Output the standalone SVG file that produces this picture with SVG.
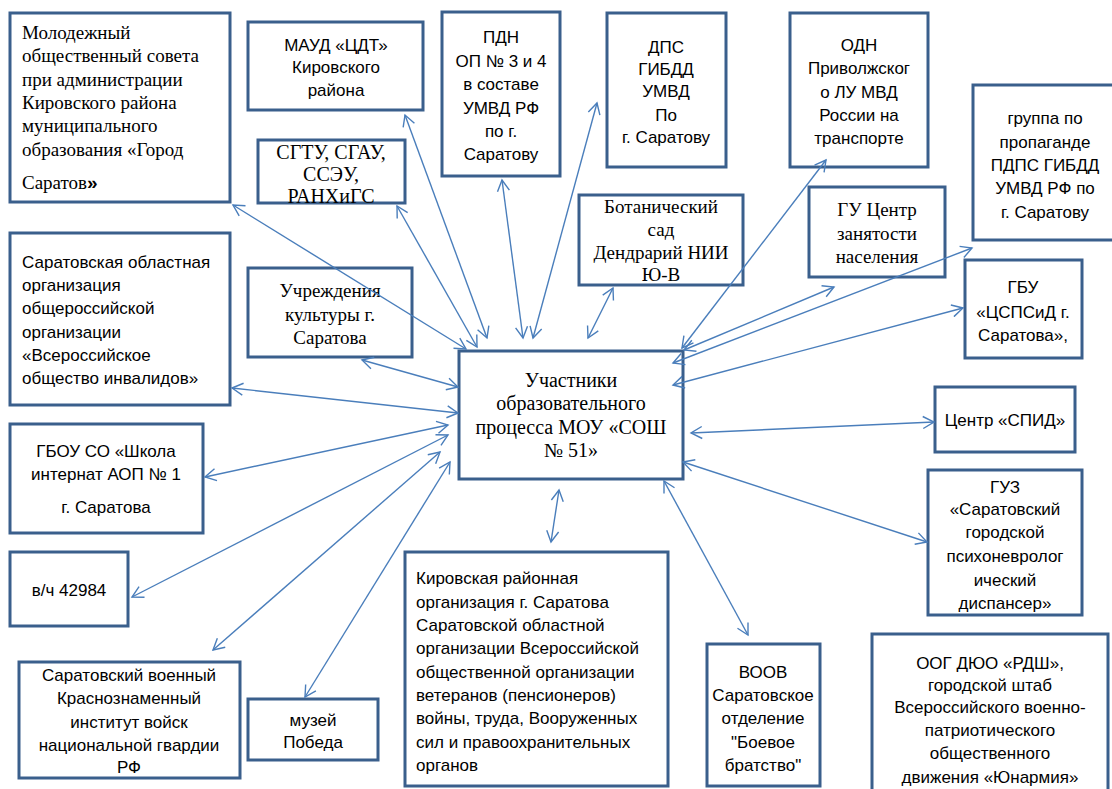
<svg xmlns="http://www.w3.org/2000/svg" width="1112" height="789" viewBox="0 0 1112 789">
<style>
.box{fill:#fff;stroke:#3A5F8C;stroke-width:3}
.serif{font-family:"Liberation Serif","Times New Roman",serif;font-size:19px;fill:#000}
.big{font-size:20px}
.sans{font-family:"Liberation Sans",Arial,sans-serif;font-size:17px;fill:#000}
.c{text-anchor:middle}
.con line{stroke:#4A7EBB;stroke-width:1.4;fill:none;marker-start:url(#ah);marker-end:url(#ah)}
</style>
<defs>
<marker id="ah" markerUnits="userSpaceOnUse" markerWidth="14" markerHeight="14" refX="12" refY="7" orient="auto-start-reverse" viewBox="0 0 14 14">
<path d="M1,1 L12,7 L1,13" fill="none" stroke="#4A7EBB" stroke-width="1.4"/>
</marker>
</defs>
<rect width="1112" height="789" fill="#fff"/>

<g id="n_molod">
<rect class="box" x="10" y="13" width="220" height="189"/>
<text class="serif" x="22"><tspan x="22" y="39">Молодежный</tspan><tspan x="22" y="62">общественный совета</tspan><tspan x="22" y="86">при администрации</tspan><tspan x="22" y="109">Кировского района</tspan><tspan x="22" y="132">муниципального</tspan><tspan x="22" y="156">образования «Город</tspan><tspan x="22" y="189">Саратов<tspan style="font-family:'Liberation Sans',Arial,sans-serif;font-weight:bold">»</tspan></tspan></text>
</g>

<g id="n_maud">
<rect class="box" x="248" y="22" width="175" height="88"/>
<text class="sans c"><tspan x="336" y="51">МАУД «ЦДТ»</tspan><tspan x="336" y="73">Кировского</tspan><tspan x="336" y="96">района</tspan></text>
</g>

<g id="n_sgtu">
<rect class="box" x="258" y="140" width="147" height="63"/>
<text class="serif big c"><tspan x="331" y="159">СГТУ, СГАУ,</tspan><tspan x="331" y="181">ССЭУ,</tspan><tspan x="331" y="203">РАНХиГС</tspan></text>
</g>

<g id="n_pdn">
<rect class="box" x="442" y="12" width="118" height="164"/>
<text class="sans c"><tspan x="501" y="43">ПДН</tspan><tspan x="501" y="67">ОП № 3 и 4</tspan><tspan x="501" y="90">в составе</tspan><tspan x="501" y="114">УМВД РФ</tspan><tspan x="501" y="137">по г.</tspan><tspan x="501" y="160">Саратову</tspan></text>
</g>

<g id="n_dps">
<rect class="box" x="607" y="13" width="119" height="154"/>
<text class="sans c"><tspan x="666" y="53">ДПС</tspan><tspan x="666" y="75">ГИБДД</tspan><tspan x="666" y="97">УМВД</tspan><tspan x="666" y="121">По</tspan><tspan x="666" y="143">г. Саратову</tspan></text>
</g>

<g id="n_odn">
<rect class="box" x="790" y="13" width="138" height="154"/>
<text class="sans c"><tspan x="859" y="51">ОДН</tspan><tspan x="859" y="74">Приволжског</tspan><tspan x="859" y="98">о ЛУ МВД</tspan><tspan x="859" y="121">России на</tspan><tspan x="859" y="144">транспорте</tspan></text>
</g>

<g id="n_gruppa">
<rect class="box" x="973" y="85" width="142" height="155"/>
<text class="sans c"><tspan x="1045" y="124">группа по</tspan><tspan x="1045" y="148">пропаганде</tspan><tspan x="1045" y="171">ПДПС ГИБДД</tspan><tspan x="1045" y="194">УМВД РФ по</tspan><tspan x="1045" y="218">г. Саратову</tspan></text>
</g>

<g id="n_bot">
<rect class="box" x="579" y="195" width="164" height="90"/>
<text class="serif c"><tspan x="661" y="213">Ботанический</tspan><tspan x="661" y="236">сад</tspan><tspan x="661" y="259">Дендрарий НИИ</tspan><tspan x="661" y="281">Ю-В</tspan></text>
</g>

<g id="n_gu">
<rect class="box" x="809" y="187" width="136" height="90"/>
<text class="serif c"><tspan x="877" y="216">ГУ Центр</tspan><tspan x="877" y="240">занятости</tspan><tspan x="877" y="263">населения</tspan></text>
</g>

<g id="n_gbu">
<rect class="box" x="965" y="260" width="117" height="98"/>
<text class="sans c"><tspan x="1023" y="293">ГБУ</tspan><tspan x="1023" y="318">«ЦСПСиД г.</tspan><tspan x="1023" y="341">Саратова»,</tspan></text>
</g>

<g id="n_sarobl">
<rect class="box" x="10" y="233" width="220" height="172"/>
<text class="sans"><tspan x="22" y="268">Саратовская областная</tspan><tspan x="22" y="291">организация</tspan><tspan x="22" y="314">общероссийской</tspan><tspan x="22" y="338">организации</tspan><tspan x="22" y="361">«Всероссийское</tspan><tspan x="22" y="384">общество инвалидов»</tspan></text>
</g>

<g id="n_uchr">
<rect class="box" x="248" y="268" width="164" height="89"/>
<text class="serif c"><tspan x="330" y="297">Учреждения</tspan><tspan x="330" y="321">культуры г.</tspan><tspan x="330" y="344">Саратова</tspan></text>
</g>

<g id="n_center">
<rect class="box" x="459" y="351" width="224" height="128"/>
<text class="serif big c"><tspan x="571" y="387">Участники</tspan><tspan x="571" y="410">образовательного</tspan><tspan x="571" y="434">процесса МОУ «СОШ</tspan><tspan x="571" y="457">№ 51»</tspan></text>
</g>

<g id="n_spid">
<rect class="box" x="935" y="387" width="140" height="65"/>
<text class="sans c" x="1005" y="426">Центр «СПИД»</text>
</g>

<g id="n_guz">
<rect class="box" x="928" y="470" width="154" height="145"/>
<text class="sans c"><tspan x="1005" y="493">ГУЗ</tspan><tspan x="1005" y="515">«Саратовский</tspan><tspan x="1005" y="538">городской</tspan><tspan x="1005" y="562">психоневролог</tspan><tspan x="1005" y="586">ический</tspan><tspan x="1005" y="609">диспансер»</tspan></text>
</g>

<g id="n_gbou">
<rect class="box" x="10" y="424" width="193" height="109"/>
<text class="sans c"><tspan x="106" y="457">ГБОУ СО «Школа</tspan><tspan x="106" y="480">интернат АОП № 1</tspan><tspan x="106" y="513">г. Саратова</tspan></text>
</g>

<g id="n_vch">
<rect class="box" x="10" y="552" width="118" height="74"/>
<text class="sans c" x="69" y="596">в/ч 42984</text>
</g>

<g id="n_voen">
<rect class="box" x="19" y="662" width="221" height="116"/>
<text class="sans c"><tspan x="129" y="681">Саратовский военный</tspan><tspan x="129" y="704">Краснознаменный</tspan><tspan x="129" y="728">институт войск</tspan><tspan x="129" y="751">национальной гвардии</tspan><tspan x="129" y="773">РФ</tspan></text>
</g>

<g id="n_muzey">
<rect class="box" x="248" y="699" width="130" height="61"/>
<text class="sans c"><tspan x="313" y="726">музей</tspan><tspan x="313" y="748">Победа</tspan></text>
</g>

<g id="n_kirov">
<rect class="box" x="405" y="552" width="263" height="234"/>
<text class="sans"><tspan x="416" y="584">Кировская районная</tspan><tspan x="416" y="608">организация г. Саратова</tspan><tspan x="416" y="631">Саратовской областной</tspan><tspan x="416" y="654">организации Всероссийской</tspan><tspan x="416" y="678">общественной организации</tspan><tspan x="416" y="701">ветеранов (пенсионеров)</tspan><tspan x="416" y="724">войны, труда, Вооруженных</tspan><tspan x="416" y="748">сил и правоохранительных</tspan><tspan x="416" y="771">органов</tspan></text>
</g>

<g id="n_voov">
<rect class="box" x="707" y="644" width="113" height="142"/>
<text class="sans c"><tspan x="763" y="678">ВООВ</tspan><tspan x="763" y="701">Саратовское</tspan><tspan x="763" y="724">отделение</tspan><tspan x="763" y="748">"Боевое</tspan><tspan x="763" y="771">братство"</tspan></text>
</g>

<g id="n_oog">
<rect class="box" x="872" y="634" width="236" height="160"/>
<text class="sans c"><tspan x="990" y="669">ООГ ДЮО «РДШ»,</tspan><tspan x="990" y="691">городской штаб</tspan><tspan x="990" y="713">Всероссийского военно-</tspan><tspan x="990" y="736">патриотического</tspan><tspan x="990" y="759">общественного</tspan><tspan x="990" y="783">движения «Юнармия»</tspan></text>
</g>

<g id="connectors" class="con">
<line x1="233" y1="205" x2="466" y2="349"/>
<line x1="405" y1="115" x2="487" y2="338"/>
<line x1="397" y1="206" x2="477" y2="347"/>
<line x1="502" y1="180" x2="523" y2="338"/>
<line x1="597" y1="103" x2="533" y2="338"/>
<line x1="613" y1="288" x2="588" y2="338"/>
<line x1="826" y1="160" x2="682" y2="348"/>
<line x1="834" y1="287" x2="684" y2="350"/>
<line x1="972" y1="248" x2="673" y2="363"/>
<line x1="963" y1="308" x2="673" y2="385"/>
<line x1="934" y1="422" x2="691" y2="433"/>
<line x1="927" y1="542" x2="683" y2="462"/>
<line x1="748" y1="635" x2="664" y2="481"/>
<line x1="559" y1="490" x2="551" y2="542"/>
<line x1="305" y1="697" x2="450" y2="462"/>
<line x1="213" y1="650" x2="440" y2="452"/>
<line x1="132" y1="597" x2="448" y2="435"/>
<line x1="205" y1="477" x2="448" y2="425"/>
<line x1="232" y1="388" x2="458" y2="413"/>
<line x1="362" y1="360" x2="458" y2="387"/>
</g>
</svg>
